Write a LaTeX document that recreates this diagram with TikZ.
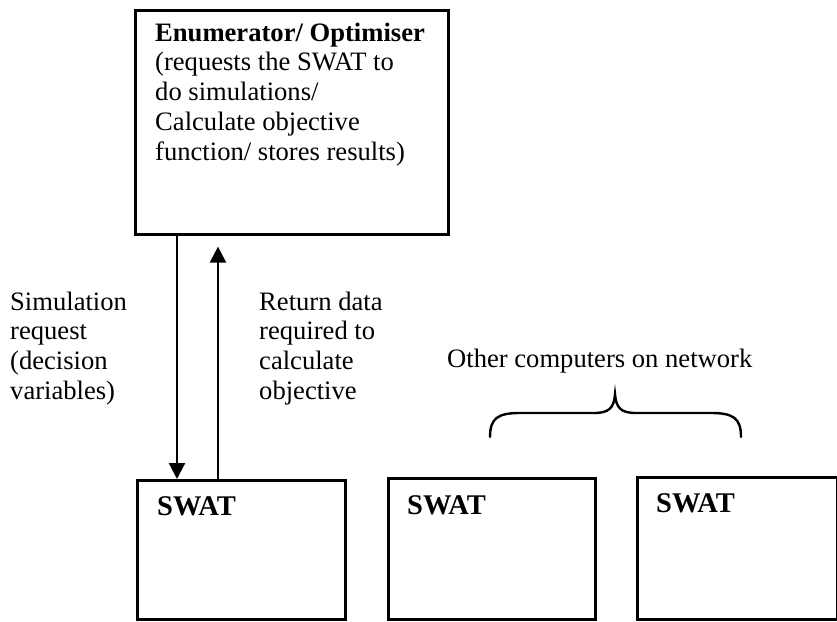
\documentclass[tikz,border=0pt]{standalone}
\usepackage{fontspec}
\setmainfont{Liberation Serif}
\usetikzlibrary{arrows.meta}
\begin{document}
\begin{tikzpicture}[x=1pt,y=-1pt,
  boxst/.style={draw=black, line width=2.6pt, fill=none, inner sep=0pt, anchor=north west},
  txt/.style={inner sep=0pt, anchor=north west, align=left, font=\fontsize{26.6}{29.8}\selectfont},
  swatlbl/.style={inner sep=0pt, anchor=base west, font=\fontsize{28.5}{30}\selectfont\bfseries},
  arr/.style={line width=2.3pt, -{Triangle[length=16pt,width=16pt]}},
  bracest/.style={line width=2.4pt, line cap=round}]
\useasboundingbox[fill=white] (0,0) rectangle (837,621);

% boxes
\node[boxst, minimum width=313pt, minimum height=224pt] (opt) at (134,9) {};
\node[boxst, minimum width=208pt, minimum height=139pt] (swat1) at (136,479) {};
\node[boxst, minimum width=207pt, minimum height=141pt] (swat2) at (387,477) {};
\node[boxst, minimum width=200pt, minimum height=142pt] (swat3) at (636,476) {};

% texts
\node[txt] (opttext) at (155,22.5) {\textbf{Enumerator/ Optimiser}\\(requests the SWAT to\\do simulations/\\Calculate objective\\function/ stores results)};
\node[swatlbl] (s1) at (157,515) {SWAT};
\node[swatlbl] (s2) at (407,514) {SWAT};
\node[swatlbl] (s3) at (656,512) {SWAT};

\node[txt] (req) at (10,291.5) {Simulation\\request\\(decision\\variables)};
\node[txt] (ret) at (259,291.5) {Return data\\required to\\calculate\\objective};
\node[inner sep=0pt, anchor=base west, font=\fontsize{26.6}{30}\selectfont] (other) at (447,367) {Other computers on network};

% connectors
\draw[arr] (opt.south -| 177,0) -- (swat1.north -| 177,0);
\draw[arr, shorten >=11pt] (swat1.north -| 218,0) -- (opt.south -| 218,0);

% brace
\coordinate (bl) at (490,437);
\coordinate (br) at (741,437);
\coordinate (btip) at (615,394);
\draw[bracest] (bl) .. controls (490,418) and (498,413) .. (520,413) -- (594,413)
  .. controls (609,413) and (614,408) .. (btip)
  .. controls (616,408) and (621,413) .. (636,413) -- (711,413)
  .. controls (733,413) and (741,418) .. (br);
\end{tikzpicture}
\end{document}
